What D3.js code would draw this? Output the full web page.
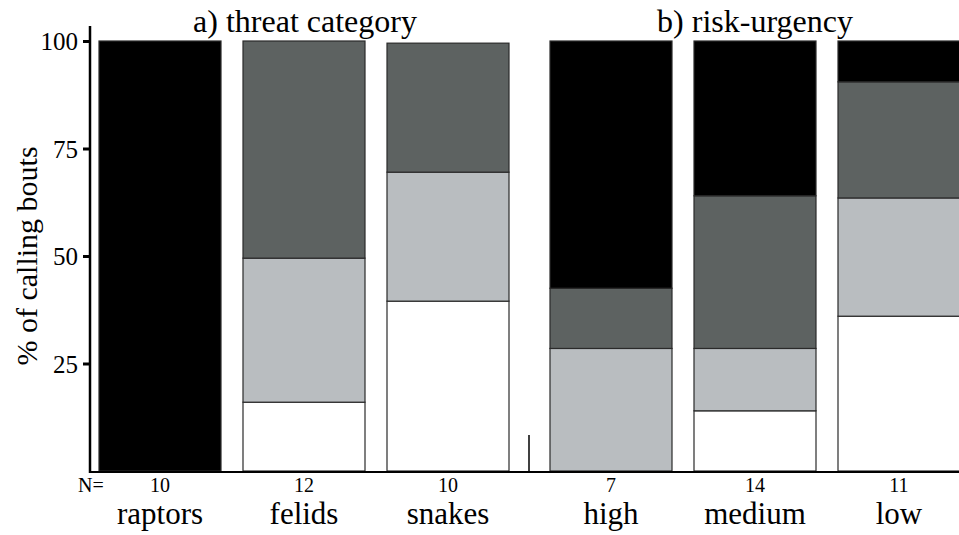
<!DOCTYPE html>
<html><head><meta charset="utf-8">
<script src="https://cdn.jsdelivr.net/npm/d3@7"></script>
<style>body{margin:0;background:#fff}svg{display:block}text{font-family:"Liberation Serif","Times New Roman",serif;fill:#000}</style>
</head><body>
<svg id="c" width="959" height="535"></svg>
<script>
const categories = ["raptors","felids","snakes","high","medium","low"];
const groups = ["a","a","a","b","b","b"];
const nValues = [10,12,10,7,14,11];
// stacked segments bottom to top: white, light grey, dark grey, black (percent)
const whiteVals = [0,16,39.5,0,14,36];
const lightVals = [0,33.5,30,28.5,14.5,27.5];
const darkVals  = [0,50.5,30,14,35.5,27];
const blackVals = [100,0,0,57.5,36,9.5];
const yTicks = [25,50,75,100];
const panelTitles = ["a) threat category","b) risk-urgency"];

const svg = d3.select("#c");
const colors = ["#ffffff","#b9bdc0","#5d6261","#000000"];
const series = [whiteVals, lightVals, darkVals, blackVals];

const y = d3.scaleLinear().domain([0,100]).range([471,41]);
const x = d3.scaleBand().domain(categories).range([99, 941]).paddingInner(22/144).paddingOuter(0);
const shift = g => g === "b" ? 19 : 0;
const bx = (c,i) => x(c) + shift(groups[i]);

// bars
categories.forEach((c,i) => {
  let base = 0;
  series.forEach((s,k) => {
    const v = s[i];
    if (v > 0) {
      svg.append("rect")
        .attr("x", bx(c,i)).attr("width", x.bandwidth())
        .attr("y", y(base+v)).attr("height", y(base)-y(base+v))
        .attr("fill", colors[k]).attr("stroke", "#2a2a2a").attr("stroke-width", 1.2);
    }
    base += v;
  });
});

// y axis
const yAxis = d3.axisLeft(y).tickValues(yTicks).tickSize(7).tickPadding(5);
const ga = svg.append("g").attr("transform","translate(90,0)").call(yAxis);
ga.select(".domain").remove();
ga.selectAll(".tick line").attr("stroke","#000").attr("stroke-width",3);
ga.selectAll(".tick text").style("font-family","Liberation Serif").style("font-size","25px").attr("dy","0.35em");
svg.append("line").attr("x1",90).attr("x2",90).attr("y1",26).attr("y2",473).attr("stroke","#000").attr("stroke-width",2.5);
// x baseline
svg.append("line").attr("x1",89).attr("x2",959).attr("y1",472).attr("y2",472).attr("stroke","#000").attr("stroke-width",2);
// break mark
svg.append("line").attr("x1",529).attr("x2",529).attr("y1",435).attr("y2",472).attr("stroke","#000").attr("stroke-width",1.5);

// y label
svg.append("text").attr("transform","translate(37,256) rotate(-90)").attr("text-anchor","middle")
  .style("font-size","30px").text("% of calling bouts");

// panel titles
svg.append("text").attr("x",305).attr("y",32).attr("text-anchor","middle").style("font-size","32px").text(panelTitles[0]);
svg.append("text").attr("x",755).attr("y",32).attr("text-anchor","middle").style("font-size","32px").text(panelTitles[1]);

// N labels
svg.append("text").attr("x",78).attr("y",492).style("font-size","20px").text("N=");
categories.forEach((c,i) => {
  const cx = bx(c,i) + x.bandwidth()/2;
  svg.append("text").attr("x",cx).attr("y",492).attr("text-anchor","middle").style("font-size","20px").text(nValues[i]);
  svg.append("text").attr("x",cx).attr("y",524).attr("text-anchor","middle").style("font-size","31px").text(c);
});
</script>
</body></html>
